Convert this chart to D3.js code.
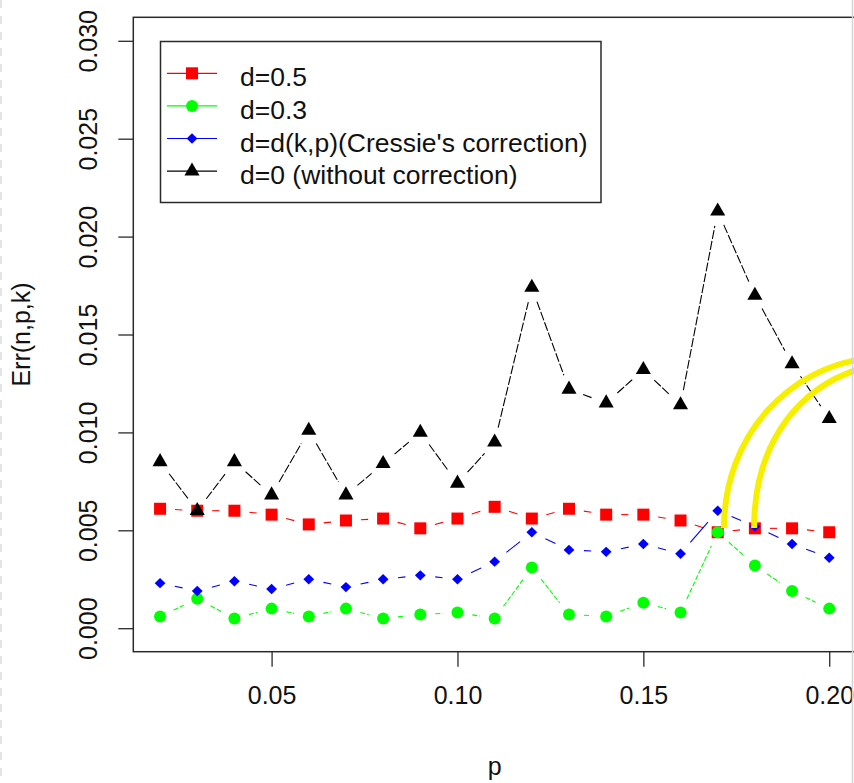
<!DOCTYPE html>
<html><head><meta charset="utf-8">
<script src="https://cdn.jsdelivr.net/npm/d3@7"></script>
<style>
body{margin:0;background:#fff}
svg{display:block}
text{font-family:"Liberation Sans",Arial,sans-serif;fill:#111}
</style>
</head><body>
<svg id="chart" width="854" height="783"></svg>
<script>
// ---- data ----
const pValues = [0.02,0.03,0.04,0.05,0.06,0.07,0.08,0.09,0.10,0.11,0.12,0.13,0.14,0.15,0.16,0.17,0.18,0.19,0.20];
const errHalf = [0.0061,0.0060,0.0060,0.0058,0.0053,0.0055,0.0056,0.0051,0.0056,0.0062,0.0056,0.0061,0.0058,0.0058,0.0055,0.0049,0.0051,0.0051,0.0049];
const errPoint3 = [0.0006,0.0015,0.0005,0.0010,0.0006,0.0010,0.0005,0.0007,0.0008,0.0005,0.0031,0.0007,0.0006,0.0013,0.0008,0.0049,0.0032,0.0019,0.0010];
const errCressie = [0.0023,0.0019,0.0024,0.0020,0.0025,0.0021,0.0025,0.0027,0.0025,0.0034,0.0049,0.0040,0.0039,0.0043,0.0038,0.0060,0.0052,0.0043,0.0036];
const errNone = [0.0085,0.0060,0.0085,0.0068,0.0101,0.0068,0.0084,0.0100,0.0074,0.0095,0.0174,0.0122,0.0115,0.0132,0.0114,0.0213,0.0170,0.0135,0.0107];
const seriesLabels = ["d=0.5","d=0.3","d=d(k,p)(Cressie's correction)","d=0 (without correction)"];
const seriesColors = ["#ff0000","#00ff00","#0000ff","#000000"];
const seriesShapes = ["square","circle","diamond","triangle"];
const xTicks = [0.05,0.10,0.15,0.20];
const xTickLabels = ["0.05","0.10","0.15","0.20"];
const yTicks = [0.000,0.005,0.010,0.015,0.020,0.025,0.030];
const yTickLabels = ["0.000","0.005","0.010","0.015","0.020","0.025","0.030"];
const xTitle = "p";
const yTitle = "Err(n,p,k)";
// annotation arcs (yellow), control points in data units
const arcOuter = [[0.1717,0.00512],[0.1717,0.00987],[0.1894,0.01339],[0.2110,0.0138]];
const arcInner = [[0.1798,0.00512],[0.1798,0.00961],[0.1927,0.01257],[0.2110,0.01339]];

const seriesValues = [errHalf, errPoint3, errCressie, errNone];

const svg = d3.select("#chart");
svg.append("rect").attr("width",854).attr("height",783).attr("fill","#fff");

const x = d3.scaleLinear().domain([0.0128,0.2072]).range([133.3,856]);
const y = d3.scaleLinear().domain([-0.0012,0.0312]).range([651.7,17.3]);

// frame
svg.append("rect")
  .attr("x",x(0.0128)).attr("y",y(0.0312))
  .attr("width",x(0.2072)-x(0.0128)).attr("height",y(-0.0012)-y(0.0312))
  .attr("fill","none").attr("stroke","#2a2a2a").attr("stroke-width",1.5);

// axes
const xAxis = d3.axisBottom(x).tickValues(xTicks).tickSize(15).tickPadding(20)
  .tickFormat((d,i)=>xTickLabels[i]);
const gx = svg.append("g").attr("transform",`translate(0,${y(-0.0012)})`).call(xAxis);
gx.select(".domain").remove();
gx.selectAll(".tick line").attr("stroke","#2a2a2a").attr("stroke-width",1.3);
gx.selectAll(".tick text").attr("font-size",25).attr("fill","#111")
  .attr("font-family","Liberation Sans, Arial, sans-serif");

const yAxis = d3.axisLeft(y).tickValues(yTicks).tickSize(15).tickFormat((d,i)=>yTickLabels[i]);
const gy = svg.append("g").attr("transform",`translate(${x(0.0128)},0)`).call(yAxis);
gy.select(".domain").remove();
gy.selectAll(".tick line").attr("stroke","#2a2a2a").attr("stroke-width",1.3);
gy.selectAll(".tick text").remove();
gy.selectAll(".tick").append("text")
  .attr("transform","translate(-36.5,0) rotate(-90)")
  .attr("text-anchor","middle").attr("font-size",25).attr("fill","#111")
  .attr("font-family","Liberation Sans, Arial, sans-serif")
  .text((d,i)=>yTickLabels[i]);

// titles
svg.append("text").attr("x",(x(0.0128)+x(0.2072))/2).attr("y",775)
  .attr("text-anchor","middle").attr("font-size",25).text(xTitle);
svg.append("text").attr("transform",`translate(30,${(y(-0.0012)+y(0.0312))/2}) rotate(-90)`)
  .attr("text-anchor","middle").attr("font-size",25).text(yTitle);

// marker drawing
function marker(g, shape, cx, cy, color){
  if(shape==="square"){
    g.append("rect").attr("x",cx-6).attr("y",cy-6).attr("width",12).attr("height",12).attr("fill",color);
  } else if(shape==="circle"){
    g.append("circle").attr("cx",cx).attr("cy",cy).attr("r",6).attr("fill",color);
  } else if(shape==="diamond"){
    g.append("path").attr("d",`M${cx},${cy-5.2}L${cx+5.4},${cy}L${cx},${cy+5.2}L${cx-5.4},${cy}Z`).attr("fill",color);
  } else {
    const s=5.6;
    g.append("path").attr("d",`M${cx},${cy-1.555*s}L${cx+1.347*s},${cy+0.778*s}L${cx-1.347*s},${cy+0.778*s}Z`).attr("fill",color);
  }
}

const dashes = [null,"5,2",null,"9,2"];
const gap = 15;
seriesValues.forEach((vals,si)=>{
  const g = svg.append("g");
  const pts = pValues.map((p,i)=>[x(p),y(vals[i])]);
  for(let i=0;i<pts.length-1;i++){
    const a=pts[i], b=pts[i+1];
    const dx=b[0]-a[0], dy=b[1]-a[1], d=Math.hypot(dx,dy);
    if(d>2*gap){
      const ux=dx/d, uy=dy/d;
      const ln = g.append("line")
        .attr("x1",a[0]+ux*gap).attr("y1",a[1]+uy*gap)
        .attr("x2",b[0]-ux*gap).attr("y2",b[1]-uy*gap)
        .attr("stroke",seriesColors[si]).attr("stroke-width",1.1);
      if(dashes[si]) ln.attr("stroke-dasharray",dashes[si]);
    }
  }
  pts.forEach(pt=>marker(g,seriesShapes[si],pt[0],pt[1],seriesColors[si]));
});

// legend
const lg = svg.append("g");
lg.append("rect").attr("x",160.5).attr("y",41.5).attr("width",440.5).attr("height",161)
  .attr("fill","#fff").attr("stroke","#2a2a2a").attr("stroke-width",1.5);
seriesLabels.forEach((lab,i)=>{
  const cy = 73.3 + i*32.6;
  lg.append("line").attr("x1",167).attr("x2",217).attr("y1",cy).attr("y2",cy)
    .attr("stroke",seriesColors[i]).attr("stroke-width",1.2);
  marker(lg,seriesShapes[i],192,cy,seriesColors[i]);
  lg.append("text").attr("x",240).attr("y",cy+13).attr("font-size",26.5).text(lab);
});

// yellow annotation arcs
[arcOuter,arcInner].forEach(arc=>{
  const P = arc.map(c=>[x(c[0]),y(c[1])]);
  svg.append("path")
    .attr("d",`M${P[0][0]},${P[0][1]}C${P[1][0]},${P[1][1]} ${P[2][0]},${P[2][1]} ${P[3][0]},${P[3][1]}`)
    .attr("fill","none").attr("stroke","#f7ef00").attr("stroke-width",6);
});

// screenshot edge artifacts
svg.append("line").attr("x1",852.5).attr("x2",852.5).attr("y1",0).attr("y2",783)
  .attr("stroke","#d4d4d4").attr("stroke-width",1.5);
svg.append("line").attr("x1",1).attr("x2",1).attr("y1",0).attr("y2",783)
  .attr("stroke","#dcdcdc").attr("stroke-width",1.5).attr("stroke-dasharray","8,8");
</script>
</body></html>
